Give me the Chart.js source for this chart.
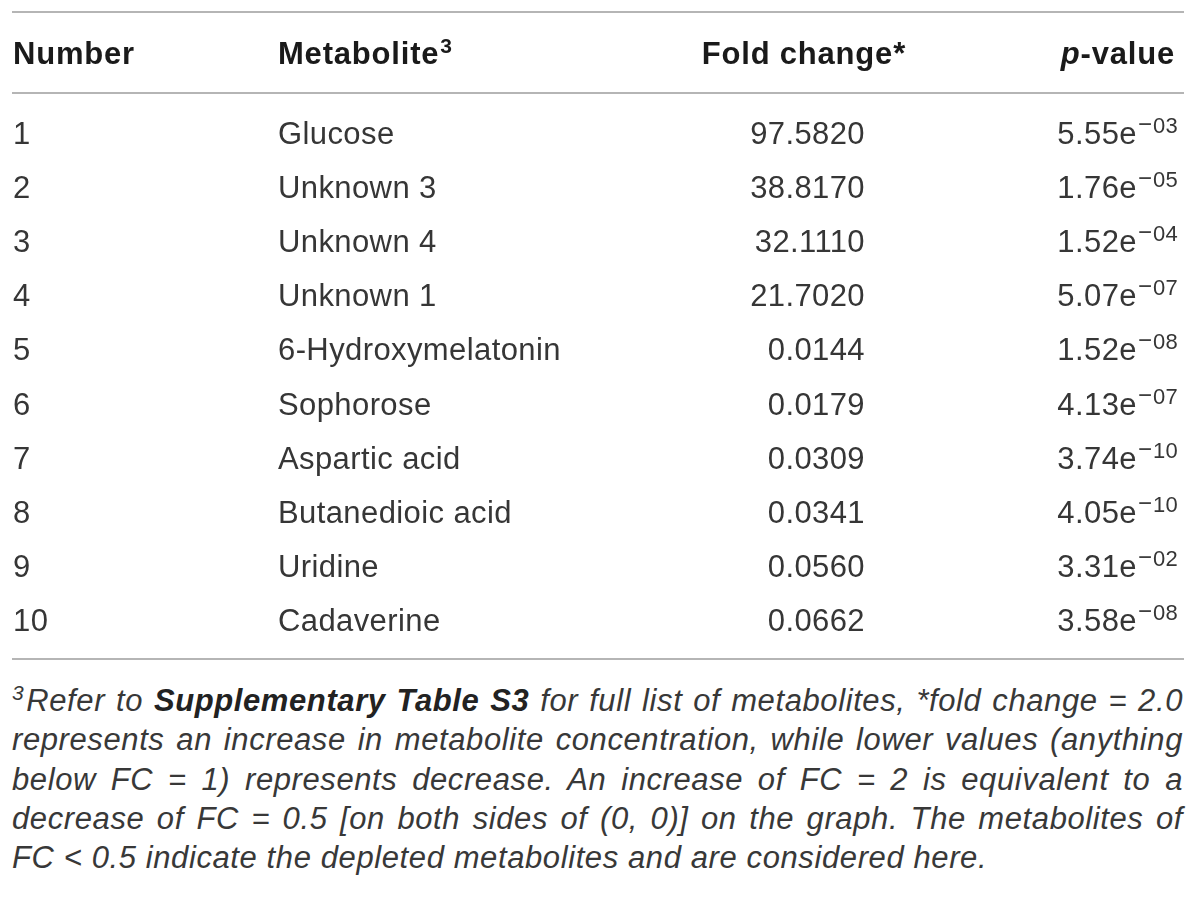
<!DOCTYPE html>
<html>
<head>
<meta charset="utf-8">
<script src="https://cdn.jsdelivr.net/npm/chart.js@4.4.0/dist/chart.umd.min.js"></script>
<style>
  html, body { margin: 0; padding: 0; background: #fff; }
  #wrap { position: relative; width: 1200px; height: 898px; overflow: hidden; }
  #table { position: absolute; left: 0; top: 0; }
  #note {
    position: absolute; left: 12px; top: 681px; width: 1171px;
    font: italic 31px 'Liberation Sans', Arial, sans-serif;
    letter-spacing: 0.6px; line-height: 39.3px; color: #383838;
  }
  #note .ln { display: block; text-align: justify; text-align-last: justify; }
  #note .ln.last { text-align-last: left; }
  #note sup { font-size: 21px; line-height: 0; vertical-align: 11px; margin-right: 2px; }
  #note b { font-weight: bold; color: #222; }
</style>
</head>
<body>
<div id="wrap">
  <canvas id="table" width="1200" height="680"></canvas>
  <div id="note">
    <span class="ln"><sup>3</sup>Refer to <b>Supplementary Table S3</b> for full list of metabolites, *fold change = 2.0</span>
    <span class="ln">represents an increase in metabolite concentration, while lower values (anything</span>
    <span class="ln">below FC = 1) represents decrease. An increase of FC = 2 is equivalent to a</span>
    <span class="ln">decrease of FC = 0.5 [on both sides of (0, 0)] on the graph. The metabolites of</span>
    <span class="ln last">FC &lt; 0.5 indicate the depleted metabolites and are considered here.</span>
  </div>
</div>
<script>
// table data
var headers = ['Number', 'Metabolite', 'Fold change*', 'p-value'];
var numbers = [1, 2, 3, 4, 5, 6, 7, 8, 9, 10];
var metabolites = ['Glucose', 'Unknown 3', 'Unknown 4', 'Unknown 1', '6-Hydroxymelatonin',
                   'Sophorose', 'Aspartic acid', 'Butanedioic acid', 'Uridine', 'Cadaverine'];
var foldChange = [97.582, 38.817, 32.111, 21.702, 0.0144, 0.0179, 0.0309, 0.0341, 0.0560, 0.0662];
var pMantissa = [5.55, 1.76, 1.52, 5.07, 1.52, 4.13, 3.74, 4.05, 3.31, 3.58];
var pExponent = [-3, -5, -4, -7, -8, -7, -10, -10, -2, -8];

// layout: x in px units, y in row units (row i sits at value i)
var FONT = "'Liberation Sans', Arial, sans-serif";
var col = { number: 13, metabolite: 278, foldHead: 906, fold: 865, pHead: 1175, p: 1178 };
var rule = { from: 12, to: 1184 };
var rowPos = { topRule: -2.255, header: -1.487, headRule: -0.758, bottomRule: 9.704 };
var capOffset = 10;

function supText(e) {
  var s = String(Math.abs(e));
  if (s.length < 2) s = '0' + s;
  return (e < 0 ? '\u2212' : '') + s;
}

var tablePlugin = {
  id: 'tableCells',
  afterDraw: function(chart) {
    var ctx = chart.ctx;
    var xs = chart.scales.x, ys = chart.scales.y;
    ctx.save();

    // horizontal rules
    ctx.strokeStyle = '#b5b5b5';
    ctx.lineWidth = 2;
    [rowPos.topRule, rowPos.headRule, rowPos.bottomRule].forEach(function(v) {
      var py = Math.round(ys.getPixelForValue(v));
      ctx.beginPath();
      ctx.moveTo(xs.getPixelForValue(rule.from), py);
      ctx.lineTo(xs.getPixelForValue(rule.to), py);
      ctx.stroke();
    });

    ctx.textBaseline = 'alphabetic';

    // header row
    var hy = ys.getPixelForValue(rowPos.header) + capOffset;
    ctx.fillStyle = '#1a1a1a';
    ctx.font = 'bold 31px ' + FONT;
    ctx.letterSpacing = '0.8px';
    ctx.textAlign = 'left';
    ctx.fillText(headers[0], xs.getPixelForValue(col.number), hy);
    ctx.fillText(headers[1], xs.getPixelForValue(col.metabolite), hy);
    var mw = ctx.measureText(headers[1]).width;
    ctx.textAlign = 'right';
    ctx.fillText(headers[2], xs.getPixelForValue(col.foldHead), hy);
    var rest = headers[3].slice(1);
    var rw = ctx.measureText(rest).width;
    ctx.fillText(rest, xs.getPixelForValue(col.pHead), hy);
    ctx.font = 'italic bold 31px ' + FONT;
    ctx.fillText(headers[3].charAt(0), xs.getPixelForValue(col.pHead) - rw, hy);
    ctx.font = 'bold 21px ' + FONT;
    ctx.letterSpacing = '0px';
    ctx.textAlign = 'left';
    ctx.fillText('3', xs.getPixelForValue(col.metabolite) + mw + 1, hy - 11);

    // body rows
    ctx.fillStyle = '#363636';
    numbers.forEach(function(n, i) {
      var py = ys.getPixelForValue(i) + capOffset;
      ctx.font = '31px ' + FONT;
      ctx.letterSpacing = '0.4px';
      ctx.textAlign = 'left';
      ctx.fillText(String(n), xs.getPixelForValue(col.number), py);
      ctx.fillText(metabolites[i], xs.getPixelForValue(col.metabolite), py);
      ctx.textAlign = 'right';
      ctx.fillText(foldChange[i].toFixed(4), xs.getPixelForValue(col.fold), py);

      // p-value: mantissa + superscript exponent, right aligned as a unit
      var sup = supText(pExponent[i]);
      var px = xs.getPixelForValue(col.p);
      ctx.font = '22px ' + FONT;
      ctx.letterSpacing = '0.3px';
      var dw = ctx.measureText(sup.slice(1)).width;
      ctx.fillText(sup.slice(1), px, py - 11);
      ctx.font = '24px ' + FONT;
      ctx.letterSpacing = '0px';
      var mwid = ctx.measureText(sup.charAt(0)).width;
      ctx.fillText(sup.charAt(0), px - dw - 1, py - 12);
      ctx.font = '31px ' + FONT;
      ctx.letterSpacing = '0.4px';
      ctx.fillText(pMantissa[i].toFixed(2) + 'e', px - dw - mwid - 2, py);
    });

    ctx.restore();
  }
};

var canvasH = 680;
var rowPitch = 54.1;
var yMin = -134 / rowPitch;

new Chart(document.getElementById('table'), {
  type: 'scatter',
  data: { datasets: [] },
  options: {
    responsive: false,
    animation: false,
    events: [],
    layout: { padding: 0 },
    plugins: { legend: { display: false }, tooltip: { enabled: false } },
    scales: {
      x: { type: 'linear', min: 0, max: 1200, display: false },
      y: { type: 'linear', min: yMin, max: yMin + canvasH / rowPitch, reverse: true, display: false }
    }
  },
  plugins: [tablePlugin]
});
</script>
</body>
</html>
